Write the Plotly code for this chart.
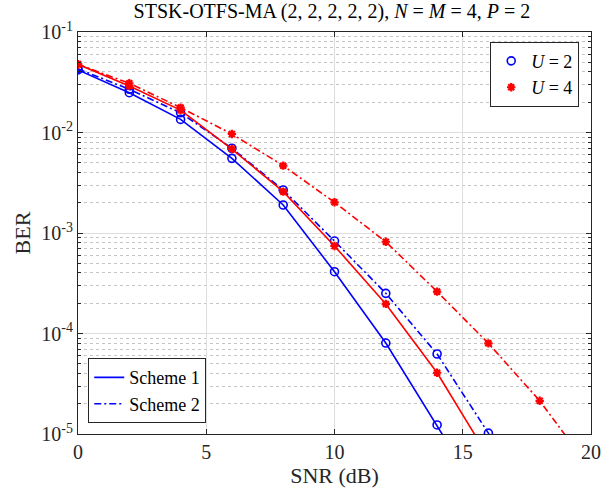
import plotly.graph_objects as go

# SNR points (dB)
snr = [0, 2, 4, 6, 8, 10, 12, 14, 16, 18, 20]

# BER curves: U = 2 (blue) and U = 4 (red), for the two schemes
ber_s1_u2 = [4.19e-2, 2.49e-2, 1.35e-2, 5.53e-3, 1.90e-3, 4.12e-4, 8.04e-5, 1.23e-5, 1.8e-6]
ber_s2_u2 = [4.30e-2, 2.69e-2, 1.57e-2, 6.97e-3, 2.68e-3, 8.32e-4, 2.51e-4, 6.25e-5, 1.02e-5, 1.2e-6]
ber_s1_u4 = [4.77e-2, 2.90e-2, 1.67e-2, 6.85e-3, 2.58e-3, 7.43e-4, 1.97e-4, 4.07e-5, 5.9e-6]
ber_s2_u4 = [4.77e-2, 3.09e-2, 1.77e-2, 9.66e-3, 4.68e-3, 2.02e-3, 8.18e-4, 2.61e-4, 7.98e-5, 2.14e-5, 4.4e-6]

decades = [1e-5, 1e-4, 1e-3, 1e-2, 1e-1]
y_ticktext = ["10<sup>-5</sup>", "10<sup>-4</sup>", "10<sup>-3</sup>", "10<sup>-2</sup>", "10<sup>-1</sup>"]
x_tickvals = [0, 5, 10, 15, 20]

# minor log ticks 2..9 within each decade
y_minor = [d * k for d in decades[:-1] for k in range(2, 10)]

BLUE = "#0000FF"
RED = "#FF0000"
DASHDOT = "7px,3px,2px,3px"
FONT = "Liberation Serif, Times New Roman, serif"
INK = "#262626"

circle = dict(symbol="circle-open", size=8, color=BLUE, line=dict(width=1.6, color=BLUE))
star = dict(symbol="asterisk-open", size=7, color=RED, line=dict(width=2.2, color=RED))

fig = go.Figure()

curves = [
    (ber_s1_u2, BLUE, "solid", circle),
    (ber_s2_u2, BLUE, DASHDOT, circle),
    (ber_s1_u4, RED, "solid", star),
    (ber_s2_u4, RED, DASHDOT, star),
]
for ber, color, dash, marker in curves:
    fig.add_trace(go.Scatter(
        x=snr[:len(ber)], y=ber, mode="lines+markers",
        line=dict(color=color, width=1.6, dash=dash),
        marker=marker, showlegend=False, cliponaxis=True,
    ))

# legend entries: user count (markers) and scheme (line style)
fig.add_trace(go.Scatter(x=[None], y=[None], mode="markers", marker=circle,
                         name="<i>U</i> = 2", legend="legend"))
fig.add_trace(go.Scatter(x=[None], y=[None], mode="markers", marker=star,
                         name="<i>U</i> = 4", legend="legend"))
fig.add_trace(go.Scatter(x=[None], y=[None], mode="lines",
                         line=dict(color=BLUE, width=1.6), name="Scheme 1", legend="legend2"))
fig.add_trace(go.Scatter(x=[None], y=[None], mode="lines",
                         line=dict(color=BLUE, width=1.6, dash=DASHDOT), name="Scheme 2", legend="legend2"))

axis_common = dict(
    showline=True, linecolor=INK, linewidth=1, mirror="ticks",
    ticks="inside", tickcolor=INK, ticklen=5,
    showgrid=True, gridcolor="#DEDEDE", gridwidth=1, zeroline=False,
    tickfont=dict(family=FONT, size=20, color=INK),
)

fig.update_xaxes(
    range=[0, 20], tickvals=x_tickvals,
    title=dict(text="SNR (dB)", font=dict(family=FONT, size=22, color=INK), standoff=2),
    **axis_common,
)
fig.update_yaxes(
    type="log", range=[-5, -1], tickvals=decades, ticktext=y_ticktext,
    title=dict(text="BER", font=dict(family=FONT, size=22, color=INK), standoff=4),
    minor=dict(tickvals=y_minor, ticks="inside", ticklen=3, tickcolor=INK,
               showgrid=True, gridcolor="#C4C4C4", griddash="dot", gridwidth=1),
    **axis_common,
)

legend_style = dict(
    bgcolor="white", bordercolor=INK, borderwidth=1,
    font=dict(family=FONT, size=18, color="black"),
    itemwidth=30, tracegroupgap=0,
)

fig.update_layout(
    width=613, height=493,
    margin=dict(l=78, r=16, t=32, b=59),
    paper_bgcolor="white", plot_bgcolor="white",
    title=dict(
        text="STSK-OTFS-MA (2, 2, 2, 2, 2), <i>N</i> = <i>M</i> = 4, <i>P</i> = 2",
        font=dict(family=FONT, size=20, color="black"),
        x=0.495, xref="paper", xanchor="center", y=0.992, yanchor="top",
    ),
    legend=dict(x=0.977, y=0.976, xanchor="right", yanchor="top", **legend_style),
    legend2=dict(x=0.02, y=0.027, xanchor="left", yanchor="bottom", **legend_style),
)

fig.write_html("out.html")
